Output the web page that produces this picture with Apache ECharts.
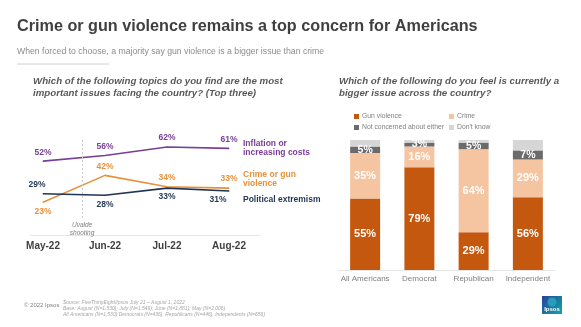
<!DOCTYPE html>
<html>
<head>
<meta charset="utf-8">
<script src="https://cdn.jsdelivr.net/npm/echarts@6/dist/echarts.min.js"></script>
<style>
  html, body { margin: 0; padding: 0; background: #ffffff; }
  #chart { width: 581px; height: 327px; }
</style>
</head>
<body>
<div id="chart"></div>
<script>
// Left panel: share naming each topic among the top three issues, by survey month
const months = ['May-22', 'Jun-22', 'Jul-22', 'Aug-22'];
const inflation = [52, 56, 62, 61];
const crimeGun = [23, 42, 34, 33];
const extremism = [29, 28, 33, 31];
const lineNames = ['Inflation or\nincreasing costs', 'Crime or gun\nviolence', 'Political extremism'];
// Uvalde shooting (May 24) falls between the May and June waves
const uvaldeIndex = 0.63;

// Right panel: which is the bigger issue, by group
const groups = ['All Americans', 'Democrat', 'Republican', 'Independent'];
const gunViolence = [55, 79, 29, 56];
const crime = [35, 16, 64, 29];
const notConcerned = [5, 3, 5, 7];
const dontKnow = [5, 2, 2, 8];
const barNames = ['Gun violence', 'Crime', 'Not concerned about either', "Don't know"];

const PURPLE = '#7a3e96';
const ORANGE = '#e8913a';
const NAVY = '#1f3654';

const FONT = '"Liberation Sans", Arial, sans-serif';

// label placement for each point (style only)
const infPlace = [{p: 'top'}, {p: 'top'}, {p: 'top'}, {p: 'top'}];
const crimePlace = [{p: 'bottom'}, {p: 'top'}, {p: 'top'}, {p: 'top'}];
const extPlace = [{p: 'top', dx: -6}, {p: 'bottom'}, {p: 'bottom'}, {p: 'bottom', dx: -11}];

function lineData(values, place) {
  return values.map((v, i) => ({
    value: [i, v],
    label: { position: place[i].p, offset: [place[i].dx || 0, 0] }
  }));
}

function lineSeries(name, values, place, color, endOffset, extra) {
  return Object.assign({
    type: 'line',
    name: name,
    xAxisIndex: 0,
    yAxisIndex: 0,
    data: lineData(values, place),
    symbol: 'circle',
    symbolSize: 1,
    showSymbol: true,
    lineStyle: { color: color, width: 1.6 },
    itemStyle: { color: color },
    label: {
      show: true,
      formatter: p => p.value[1] + '%',
      color: color,
      fontFamily: FONT,
      fontWeight: 'bold',
      fontSize: 8.5,
      distance: 4
    },
    endLabel: {
      show: true,
      formatter: () => name,
      color: color,
      fontFamily: FONT,
      fontWeight: 'bold',
      fontSize: 8.5,
      lineHeight: 9,
      distance: 14,
      offset: endOffset
    },
    animation: false
  }, extra || {});
}

function barSeries(name, values, color, labelShow, fontSize) {
  return {
    type: 'bar',
    name: name,
    stack: 'total',
    xAxisIndex: 1,
    yAxisIndex: 1,
    data: values,
    barWidth: 30,
    itemStyle: { color: color },
    label: {
      show: labelShow,
      position: 'inside',
      formatter: p => p.value + '%',
      color: '#ffffff',
      fontFamily: FONT,
      fontWeight: 'bold',
      fontSize: fontSize
    },
    animation: false
  };
}

const chart = echarts.init(document.getElementById('chart'), null, { renderer: 'canvas' });

const legendBase = {
  icon: 'rect',
  itemWidth: 5,
  itemHeight: 5,
  itemGap: 4,
  padding: 0,
  textStyle: { color: '#808080', fontFamily: FONT, fontSize: 6.8, padding: [0, 0, 0, -2] },
  selectedMode: false
};

chart.setOption({
  backgroundColor: '#ffffff',
  textStyle: { fontFamily: FONT },
  title: [
    {
      text: 'Crime or gun violence remains a top concern for Americans',
      left: 17, top: 19, padding: 0,
      textStyle: { color: '#404040', fontFamily: FONT, fontWeight: 'bold', fontSize: 16.2 }
    },
    {
      text: 'When forced to choose, a majority say gun violence is a bigger issue than crime',
      left: 17, top: 47, padding: 0,
      textStyle: { color: '#8c8c8c', fontFamily: FONT, fontWeight: 'normal', fontSize: 8.7 }
    },
    {
      text: 'Which of the following topics do you find are the most\nimportant issues facing the country? (Top three)',
      left: 33, top: 75, padding: 0,
      textStyle: { color: '#595959', fontFamily: FONT, fontWeight: 'bold', fontStyle: 'italic', fontSize: 9.7, lineHeight: 12 }
    },
    {
      text: 'Which of the following do you feel is currently a\nbigger issue across the country?',
      left: 339, top: 75, padding: 0,
      textStyle: { color: '#595959', fontFamily: FONT, fontWeight: 'bold', fontStyle: 'italic', fontSize: 9.7, lineHeight: 12 }
    },
    {
      text: '© 2022 Ipsos',
      left: 24, top: 302, padding: 0,
      textStyle: { color: '#7f7f7f', fontFamily: FONT, fontWeight: 'normal', fontSize: 6 }
    },
    {
      text: 'Source: FiveThirtyEight/Ipsos July 21 – August 1, 2022\nBase: August (N=1,530); July (N=1,549); June (N=1,881); May (N=2,006)\nAll Americans (N=1,530) Democrats (N=436), Republicans (N=446), Independents (N=656)',
      left: 63, top: 299, padding: 0,
      textStyle: { color: '#a6a6a6', fontFamily: FONT, fontWeight: 'normal', fontStyle: 'italic', fontSize: 5, lineHeight: 6.3 }
    }
  ],
  legend: [
    Object.assign({ data: [barNames[0]], left: 354, top: 113 }, legendBase),
    Object.assign({ data: [barNames[1]], left: 449, top: 113 }, legendBase),
    Object.assign({ data: [barNames[2]], left: 354, top: 124 }, legendBase),
    Object.assign({ data: [barNames[3]], left: 449, top: 124 }, legendBase)
  ],
  grid: [
    { left: 30.6, width: 229.4, top: 93, height: 142 },
    { left: 338, width: 217, top: 140, height: 130 }
  ],
  xAxis: [
    {
      type: 'value', gridIndex: 0, min: -0.2, max: 3.5,
      axisLine: { show: true, onZero: false, lineStyle: { color: '#e6e6e6', width: 1 } },
      axisTick: { show: false },
      splitLine: { show: false },
      axisLabel: {
        customValues: [0, 1, 2, 3],
        formatter: v => months[Math.round(v)],
        color: '#404040', fontFamily: FONT, fontWeight: 'bold', fontSize: 10, margin: 6
      }
    },
    {
      type: 'category', gridIndex: 1, data: groups,
      axisLine: { show: true, lineStyle: { color: '#e6e6e6', width: 1 } },
      axisTick: { show: false },
      axisLabel: { interval: 0, color: '#7f7f7f', fontFamily: FONT, fontSize: 8, margin: 5 }
    }
  ],
  yAxis: [
    { type: 'value', gridIndex: 0, min: 0, max: 100, show: false, splitLine: { show: false } },
    { type: 'value', gridIndex: 1, min: 0, max: 100, show: false, splitLine: { show: false } }
  ],
  series: [
    lineSeries(lineNames[0], inflation, infPlace, PURPLE, [0, 0], {
      markLine: {
        silent: true,
        symbol: 'none',
        animation: false,
        lineStyle: { color: '#c8c8c8', type: [2, 2], width: 1 },
        label: {
          show: true,
          position: 'start',
          distance: 3,
          formatter: 'Uvalde\nshooting',
          color: '#7f7f7f',
          fontFamily: FONT,
          fontStyle: 'italic',
          fontSize: 6.5,
          lineHeight: 8
        },
        data: [[{ coord: [uvaldeIndex, 12] }, { coord: [uvaldeIndex, 67.5] }]]
      }
    }),
    lineSeries(lineNames[1], crimeGun, crimePlace, ORANGE, [0, -9]),
    lineSeries(lineNames[2], extremism, extPlace, NAVY, [0, 9]),
    barSeries(barNames[0], gunViolence, '#c4580f', true, 11),
    barSeries(barNames[1], crime, '#f5c4a0', true, 11),
    barSeries(barNames[2], notConcerned, '#6b6b6b', true, 10.5),
    barSeries(barNames[3], dontKnow, '#d6d6d6', false, 10)
  ],
  graphic: [
    {
      type: 'line',
      shape: { x1: 17, y1: 64, x2: 109, y2: 64 },
      style: { stroke: '#d0d0d0', lineWidth: 1 },
      silent: true
    },
    {
      type: 'group',
      left: 542, top: 296,
      children: [
        {
          type: 'rect',
          shape: { x: 0, y: 0, width: 20, height: 18 },
          style: {
            fill: new echarts.graphic.LinearGradient(0, 0, 1, 1, [
              { offset: 0, color: '#2a3f9a' },
              { offset: 1, color: '#10a8a8' }
            ])
          }
        },
        {
          type: 'circle',
          shape: { cx: 10, cy: 6, r: 4.5 },
          style: { fill: 'rgba(40,170,190,0.8)' }
        },
        {
          type: 'text',
          x: 10, y: 13,
          style: {
            text: 'Ipsos', fill: '#ffffff', fontFamily: FONT, fontSize: 6, fontWeight: 'bold',
            align: 'center', verticalAlign: 'middle'
          }
        }
      ]
    }
  ]
});
</script>
</body>
</html>
